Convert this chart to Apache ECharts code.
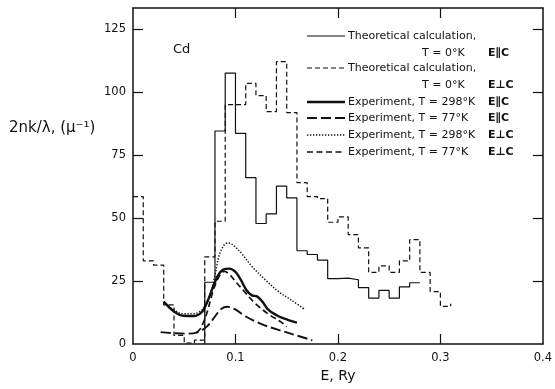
<!DOCTYPE html>
<html>
<head>
<meta charset="utf-8">
<script src="https://cdn.jsdelivr.net/npm/echarts@6.0.0/dist/echarts.min.js"></script>
<style>
  html, body { margin: 0; padding: 0; background: #fff; }
  #chart { width: 555px; height: 389px; }
</style>
</head>
<body>
<div id="chart"></div>
<script>
// theoretical histograms, 0.01 Ry bins (edges + value per bin)
const thPerpEdges = [0, 0.01, 0.02, 0.03, 0.04, 0.05, 0.06, 0.07, 0.08, 0.09, 0.10,
  0.11, 0.12, 0.13, 0.14, 0.15, 0.16, 0.17, 0.18, 0.19, 0.20,
  0.21, 0.22, 0.23, 0.24, 0.25, 0.26, 0.27, 0.28, 0.29, 0.30, 0.31]
const thPerpValues = [58.5, 33, 31.3, 15.5, 3.4, 0.4, 1.5, 34.6, 48.7, 95,
  95, 103.4, 98.5, 92.2, 112, 91.8, 64, 58.5, 57.7, 48.3,
  50.4, 43.4, 38.1, 28.4, 31, 28.4, 33, 41.4, 28.4, 20.8, 14.9]
const thPerpEnd = 16

const thParEdges = [0.07, 0.08, 0.09, 0.10, 0.11, 0.12, 0.13, 0.14, 0.15, 0.16, 0.17,
  0.18, 0.19, 0.20, 0.21, 0.22, 0.23, 0.24, 0.25, 0.26, 0.27, 0.28]
const thParValues = [24.5, 84.5, 107.5, 83.6, 66, 47.8, 51.6, 62.6, 58, 37,
  35.5, 33.3, 25.9, 26.1, 25.5, 22.4, 18.2, 21.3, 18.2, 22.7, 24.3]

// experimental curves [E, 2nk/lambda]
const exp298Par = [[0.030, 16.8], [0.040, 12.9], [0.049, 11.2], [0.059, 11.1], [0.067, 12.6],
  [0.073, 17.2], [0.078, 22.5], [0.083, 27.2], [0.088, 29.5], [0.094, 29.9], [0.100, 28.6],
  [0.105, 25.6], [0.111, 21.2], [0.116, 19.3], [0.121, 18.9], [0.126, 17], [0.132, 13.6],
  [0.142, 11], [0.151, 9.6], [0.160, 8.5]]
const exp77Par = [[0.027, 4.7], [0.040, 4.3], [0.052, 4.1], [0.062, 4.5], [0.072, 6.9],
  [0.080, 10.9], [0.086, 13.9], [0.092, 14.8], [0.099, 13.9], [0.110, 10.9], [0.126, 7.8],
  [0.142, 5.6], [0.158, 3.6], [0.175, 1.5]]
const exp298Perp = [[0.030, 16.5], [0.040, 13.5], [0.049, 12], [0.059, 12], [0.068, 13.8],
  [0.075, 19.5], [0.080, 27.2], [0.084, 35], [0.089, 39.3], [0.093, 40.1], [0.099, 38.8],
  [0.107, 35.4], [0.116, 30.8], [0.129, 25.5], [0.142, 20.8], [0.155, 17.3], [0.167, 13.9]]
const exp77Perp = [[0.062, 4.6], [0.066, 6.2], [0.072, 12.2], [0.078, 20.8], [0.084, 26.8],
  [0.089, 28.8], [0.094, 27.7], [0.100, 24.8], [0.110, 20.2], [0.119, 16.2], [0.132, 11.9],
  [0.145, 8.6], [0.150, 6.8]]

const xTicks = [0, 0.1, 0.2, 0.3, 0.4]
const yTicks = [0, 25, 50, 75, 100, 125]

const legendRows = [
  { text: 'Theoretical calculation,', sub: 'T = 0°K', pol: 'E∥C' },
  { text: 'Theoretical calculation,', sub: 'T = 0°K', pol: 'E⊥C' },
  { text: 'Experiment, T = 298°K', pol: 'E∥C' },
  { text: 'Experiment, T = 77°K', pol: 'E∥C' },
  { text: 'Experiment, T = 298°K', pol: 'E⊥C' },
  { text: 'Experiment, T = 77°K', pol: 'E⊥C' },
]

const ink = '#111'
const font = 'DejaVu Sans, sans-serif'

// line styles shared by series and legend keys
const styles = [
  { width: 1.2, type: 'solid' },
  { width: 1.2, type: [5, 3] },
  { width: 2.4, type: 'solid' },
  { width: 1.9, type: [10, 4] },
  { width: 1.5, type: [1.3, 1.7] },
  { width: 1.7, type: [6, 3.5] },
]

function histData(edges, values, start, end) {
  const pts = values.map((v, i) => [edges[i], v])
  if (start != null) pts.unshift([edges[0], start])
  pts.push([edges[edges.length - 1], end != null ? end : values[values.length - 1]])
  return pts
}

const seriesData = [
  histData(thParEdges, thParValues, 0),
  histData(thPerpEdges, thPerpValues, null, thPerpEnd),
  exp298Par, exp77Par, exp298Perp, exp77Perp,
]

const series = seriesData.map((d, i) => ({
  type: 'line',
  data: d,
  step: i < 2 ? 'end' : undefined,
  smooth: i < 2 ? false : 0.35,
  symbol: 'none',
  lineStyle: { color: ink, width: styles[i].width, type: styles[i].type, cap: 'butt' },
  z: 3,
}))

// legend block, top right
const rowY = [36, 68, 102, 118, 135, 152]
const graphic = []
legendRows.forEach((r, i) => {
  const y = rowY[i]
  graphic.push({
    type: 'line', shape: { x1: 307, y1: y, x2: 345, y2: y },
    style: { stroke: ink, lineWidth: styles[i].width, lineDash: Array.isArray(styles[i].type) ? styles[i].type : null },
  })
  graphic.push({
    type: 'text', x: 348, y: y,
    style: { text: r.text, font: '11px ' + font, fill: ink, verticalAlign: 'middle' },
  })
  const polY = r.sub ? y + 17 : y
  if (r.sub) {
    graphic.push({
      type: 'text', x: 422, y: polY,
      style: { text: r.sub, font: '11px ' + font, fill: ink, verticalAlign: 'middle' },
    })
  }
  graphic.push({
    type: 'text', x: 488, y: polY,
    style: { text: r.pol, font: 'bold 11px ' + font, fill: ink, verticalAlign: 'middle' },
  })
})
graphic.push({
  type: 'text', x: 173, y: 50,
  style: { text: 'Cd', font: '13px ' + font, fill: ink, verticalAlign: 'middle' },
})
graphic.push({
  type: 'text', x: 9, y: 128,
  style: { text: '2nk/λ, (μ⁻¹)', font: '15px ' + font, fill: ink, verticalAlign: 'middle' },
})

const axisLine = { onZero: false, lineStyle: { color: ink, width: 1.5 } }
const tick = { inside: true, length: 10, lineStyle: { color: ink, width: 1.2 } }

const option = {
  animation: false,
  backgroundColor: '#fff',
  textStyle: { fontFamily: font },
  grid: { left: 133, right: 6, top: 8, bottom: 45 },
  xAxis: [
    {
      type: 'value', min: 0, max: 0.4, position: 'bottom',
      axisLine, axisTick: { ...tick, customValues: xTicks.slice(1, -1) },
      axisLabel: { customValues: xTicks, color: ink, fontSize: 11.5, margin: 8 },
      splitLine: { show: false },
      name: 'E, Ry', nameLocation: 'middle', nameGap: 25,
      nameTextStyle: { color: ink, fontSize: 14 },
    },
    {
      type: 'value', min: 0, max: 0.4, position: 'top',
      axisLine, axisTick: { ...tick, customValues: xTicks.slice(1, -1) },
      axisLabel: { show: false }, splitLine: { show: false },
    },
  ],
  yAxis: [
    {
      type: 'value', min: 0, max: 133.3, position: 'left',
      axisLine, axisTick: { ...tick, customValues: yTicks.slice(1) },
      axisLabel: { customValues: yTicks, color: ink, fontSize: 11.5, margin: 7 },
      splitLine: { show: false },
    },
    {
      type: 'value', min: 0, max: 133.3, position: 'right',
      axisLine, axisTick: { ...tick, customValues: yTicks.slice(1) },
      axisLabel: { show: false }, splitLine: { show: false },
    },
  ],
  series,
  graphic,
}

const chart = echarts.init(document.getElementById('chart'))
chart.setOption(option)
</script>
</body>
</html>
